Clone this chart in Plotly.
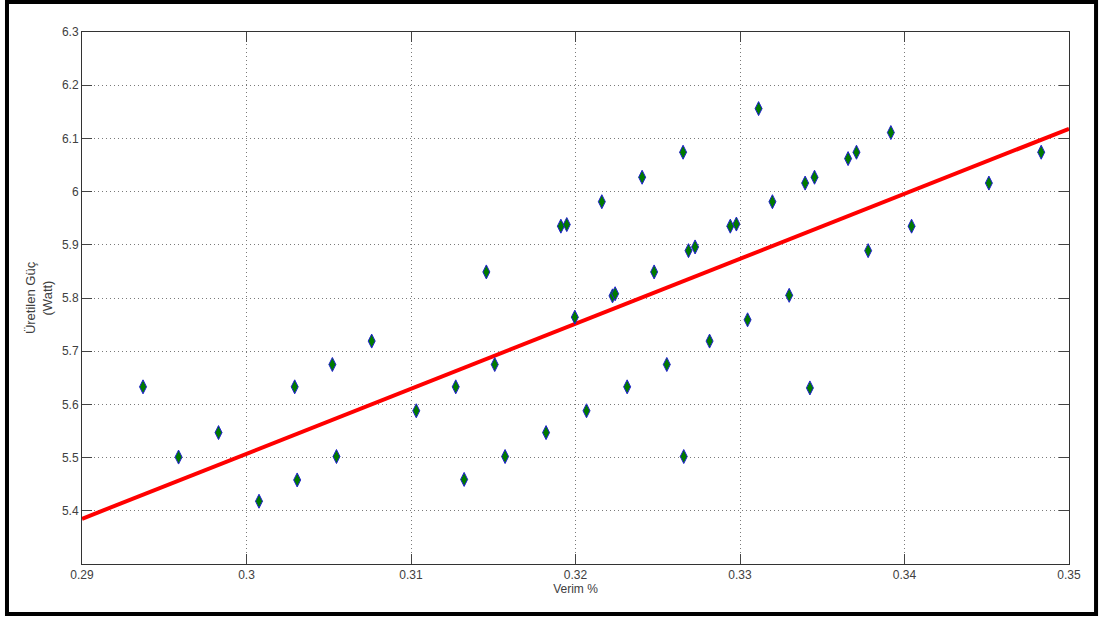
import plotly.graph_objects as go

# Scatter data: Verim (efficiency) vs Üretilen Güç (power, Watt)
verim = [0.29371, 0.29587, 0.29830, 0.30076, 0.30293, 0.30308, 0.30522, 0.30547,
         0.30761, 0.31032, 0.31272, 0.31323, 0.31458, 0.31509, 0.31572, 0.31821,
         0.31911, 0.31947, 0.31996, 0.32067, 0.32160, 0.32225, 0.32241, 0.32314,
         0.32405, 0.32478, 0.32555, 0.32654, 0.32658, 0.32687, 0.32727, 0.32815,
         0.32941, 0.32978, 0.33046, 0.33113, 0.33197, 0.33299, 0.33396, 0.33425,
         0.33453, 0.33657, 0.33708, 0.33779, 0.33917, 0.34043, 0.34513, 0.34831]
guc = [5.633, 5.501, 5.547, 5.418, 5.633, 5.458, 5.675, 5.502,
       5.719, 5.588, 5.633, 5.459, 5.849, 5.675, 5.502, 5.547,
       5.935, 5.938, 5.764, 5.588, 5.981, 5.804, 5.808, 5.633,
       6.027, 5.849, 5.675, 6.074, 5.502, 5.889, 5.896, 5.719,
       5.935, 5.939, 5.759, 6.156, 5.981, 5.805, 6.016, 5.631,
       6.027, 6.062, 6.074, 5.889, 6.111, 5.935, 6.016, 6.074]

# Fitted trend line
fit_x = [0.29, 0.35]
fit_y = [5.385, 6.118]

x_ticks = [0.29, 0.30, 0.31, 0.32, 0.33, 0.34, 0.35]
x_tick_labels = ["0.29", "0.3", "0.31", "0.32", "0.33", "0.34", "0.35"]
y_ticks = [5.4, 5.5, 5.6, 5.7, 5.8, 5.9, 6.0, 6.1, 6.2, 6.3]
y_tick_labels = ["5.4", "5.5", "5.6", "5.7", "5.8", "5.9", "6", "6.1", "6.2", "6.3"]

font_family = "Liberation Sans, Arial, sans-serif"
text_color = "#404040"

fig = go.Figure()
fig.add_trace(go.Scatter(
    x=fit_x, y=fit_y, mode="lines",
    line=dict(color="#ff0000", width=4),
    showlegend=False, hoverinfo="skip"))
fig.add_trace(go.Scatter(
    x=verim, y=guc, mode="markers",
    marker=dict(symbol="diamond-tall", size=10, color="#007a00",
                line=dict(color="#2020d0", width=1)),
    showlegend=False))

axis_common = dict(
    showline=True, linecolor="#333333", linewidth=1, mirror="ticks",
    ticks="inside", ticklen=10, tickcolor="#444444", tickwidth=1,
    showgrid=True, gridcolor="#7a7a7a", griddash="1px,3px", gridwidth=1,
    zeroline=False,
    tickfont=dict(family=font_family, size=12, color=text_color),
)

fig.update_xaxes(range=[0.29, 0.35], tickvals=x_ticks, ticktext=x_tick_labels,
                 title=dict(text="Verim %", font=dict(family=font_family, size=12, color=text_color),
                            standoff=3),
                 **axis_common)
fig.update_yaxes(range=[5.3, 6.3], tickvals=y_ticks, ticktext=y_tick_labels,
                 title=dict(text="Üretilen Güç<br>(Watt)",
                            font=dict(family=font_family, size=13, color=text_color),
                            standoff=6),
                 **axis_common)

# Outer black frame around the figure
fig.add_shape(type="rect", xref="paper", yref="paper",
              x0=-0.076, x1=1.0274, y0=-0.094, y1=1.0564,
              line=dict(color="#000000", width=4), layer="above")

fig.update_layout(
    width=1101, height=621,
    margin=dict(l=82, r=32, t=32, b=57),
    paper_bgcolor="white", plot_bgcolor="white",
    font=dict(family=font_family, color=text_color),
)

fig.write_html("out.html",
               config={"displayModeBar": False},
               post_script="document.body.style.margin='0';document.body.style.overflow='hidden';")
